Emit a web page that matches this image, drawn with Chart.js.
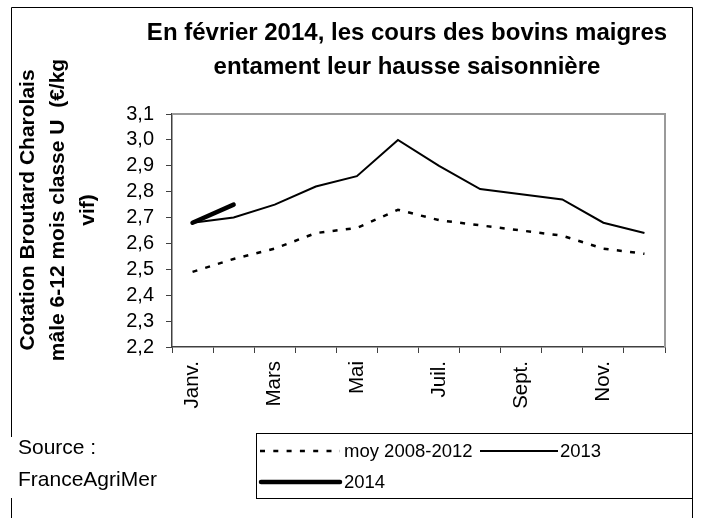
<!DOCTYPE html>
<html lang="fr">
<head>
<meta charset="utf-8">
<title>Cours des bovins maigres</title>
<script src="https://cdn.jsdelivr.net/npm/chart.js@4.4.1/dist/chart.umd.min.js"></script>
<style>
  html, body { margin: 0; padding: 0; background: #fff; }
  #wrap { width: 702px; height: 518px; }
</style>
</head>
<body>
<div id="wrap"><canvas id="chart" width="702" height="518"></canvas></div>
<script>
// Data (€/kg vif)
const months = ['Janv.', 'Févr.', 'Mars', 'Avr.', 'Mai', 'Juin', 'Juil.', 'Août', 'Sept.', 'Oct.', 'Nov.', 'Déc.'];
const moy20082012 = [2.49, 2.54, 2.58, 2.64, 2.66, 2.73, 2.69, 2.67, 2.65, 2.63, 2.58, 2.56];
const values2013 = [2.68, 2.70, 2.75, 2.82, 2.86, 3.00, 2.90, 2.81, 2.79, 2.77, 2.68, 2.64];
const values2014 = [2.68, 2.75];
const seriesLabels = ['moy 2008-2012', '2013', '2014'];

const titleLines = ['En février 2014, les cours des bovins maigres', 'entament leur hausse saisonnière'];
const yTitleLines = ['Cotation Broutard Charolais', 'mâle 6-12 mois classe U  (€/kg', 'vif)'];
const sourceLines = ['Source :', 'FranceAgriMer'];

const yMin = 2.2;
const yMax = 3.1;
const yStep = 0.1;

const FONT = "'Liberation Sans', Arial, sans-serif";

// Extra drawing: title, frame, source, legend box, y title
const decorations = {
    id: 'decorations',
    beforeDraw(chart) {
        const ctx = chart.ctx;
        ctx.save();
        ctx.fillStyle = '#fff';
        ctx.fillRect(0, 0, chart.width, chart.height);
        ctx.restore();
    },
    afterDraw(chart) {
        const ctx = chart.ctx;
        const area = chart.chartArea;
        ctx.save();

        // outer border (left side interrupted by the source text box)
        ctx.strokeStyle = '#000';
        ctx.lineWidth = 1;
        ctx.beginPath();
        ctx.moveTo(11.5, 518);
        ctx.lineTo(11.5, 498);
        ctx.moveTo(11.5, 437);
        ctx.lineTo(11.5, 7.5);
        ctx.lineTo(692.5, 7.5);
        ctx.lineTo(692.5, 518);
        ctx.stroke();

        // plot frame top and right in grey
        ctx.strokeStyle = '#9a9a9a';
        ctx.lineWidth = 2;
        ctx.beginPath();
        ctx.moveTo(area.left, area.top);
        ctx.lineTo(area.right, area.top);
        ctx.lineTo(area.right, area.bottom);
        ctx.stroke();

        // title
        ctx.fillStyle = '#000';
        ctx.textAlign = 'center';
        ctx.textBaseline = 'middle';
        ctx.font = 'bold 24px ' + FONT;
        titleLines.forEach((line, i) => ctx.fillText(line, 407, 33 + i * 34));

        // y axis title, rotated
        ctx.save();
        ctx.translate(0, 210);
        ctx.rotate(-Math.PI / 2);
        ctx.font = 'bold 21px ' + FONT;
        yTitleLines.forEach((line, i) => ctx.fillText(line, 0, 28 + i * 30));
        ctx.restore();

        // source
        ctx.textAlign = 'left';
        ctx.font = '21px ' + FONT;
        sourceLines.forEach((line, i) => ctx.fillText(line, 18, 448 + i * 32));

        // legend box
        ctx.strokeStyle = '#000';
        ctx.lineWidth = 1;
        ctx.strokeRect(256.5, 433.5, 436, 65);

        const slots = [
            { x1: 260, x2: 340, y: 451, tx: 344 },
            { x1: 480, x2: 558, y: 451, tx: 560 },
            { x1: 261, x2: 340, y: 482, tx: 344 }
        ];
        ctx.font = '18.5px ' + FONT;
        chart.data.datasets.forEach((ds, i) => {
            const s = slots[i];
            ctx.save();
            ctx.strokeStyle = ds.borderColor;
            ctx.lineWidth = ds.borderWidth;
            ctx.lineCap = ds.borderCapStyle || 'butt';
            ctx.setLineDash(ds.borderDash || []);
            ctx.beginPath();
            ctx.moveTo(s.x1, s.y);
            ctx.lineTo(s.x2, s.y);
            ctx.stroke();
            ctx.restore();
            ctx.fillText(ds.label, s.tx, s.y + 1);
        });

        ctx.restore();
    }
};

new Chart(document.getElementById('chart'), {
    type: 'line',
    data: {
        labels: months,
        datasets: [
            {
                label: seriesLabels[0],
                data: moy20082012,
                borderColor: '#000',
                borderWidth: 2.5,
                borderDash: [5, 8.3],
                pointRadius: 0,
                tension: 0,
                order: 3
            },
            {
                label: seriesLabels[1],
                data: values2013,
                borderColor: '#000',
                borderWidth: 2,
                pointRadius: 0,
                tension: 0,
                order: 2
            },
            {
                label: seriesLabels[2],
                data: values2014,
                borderColor: '#000',
                borderWidth: 4.5,
                borderCapStyle: 'round',
                pointRadius: 0,
                tension: 0,
                order: 1
            }
        ]
    },
    options: {
        responsive: false,
        animation: false,
        devicePixelRatio: 1,
        layout: {
            padding: { top: 114, right: 37, left: 0, bottom: 0 }
        },
        plugins: {
            legend: { display: false },
            title: { display: false },
            tooltip: { enabled: false }
        },
        scales: {
            x: {
                offset: true,
                grid: {
                    display: true,
                    offset: true,
                    drawOnChartArea: false,
                    drawTicks: true,
                    tickLength: 6,
                    tickColor: '#404040'
                },
                border: { display: true, color: '#404040', width: 1.5 },
                ticks: {
                    autoSkip: false,
                    minRotation: 90,
                    maxRotation: 90,
                    padding: 8,
                    color: '#000',
                    font: { family: FONT, size: 20.5 },
                    callback: function (value, index) {
                        return index % 2 === 0 ? this.getLabelForValue(value) : '';
                    }
                },
                afterFit(scale) {
                    scale.height = 171;
                }
            },
            y: {
                min: yMin,
                max: yMax,
                grid: {
                    display: true,
                    drawOnChartArea: false,
                    drawTicks: true,
                    tickLength: 6,
                    tickColor: '#404040'
                },
                border: { display: true, color: '#404040', width: 1.5 },
                ticks: {
                    stepSize: yStep,
                    autoSkip: false,
                    padding: 12,
                    color: '#000',
                    font: { family: FONT, size: 20 },
                    callback: (value) => value.toFixed(1).replace('.', ',')
                },
                afterFit(scale) {
                    scale.width = 172;
                }
            }
        }
    },
    plugins: [decorations]
});
</script>
</body>
</html>
